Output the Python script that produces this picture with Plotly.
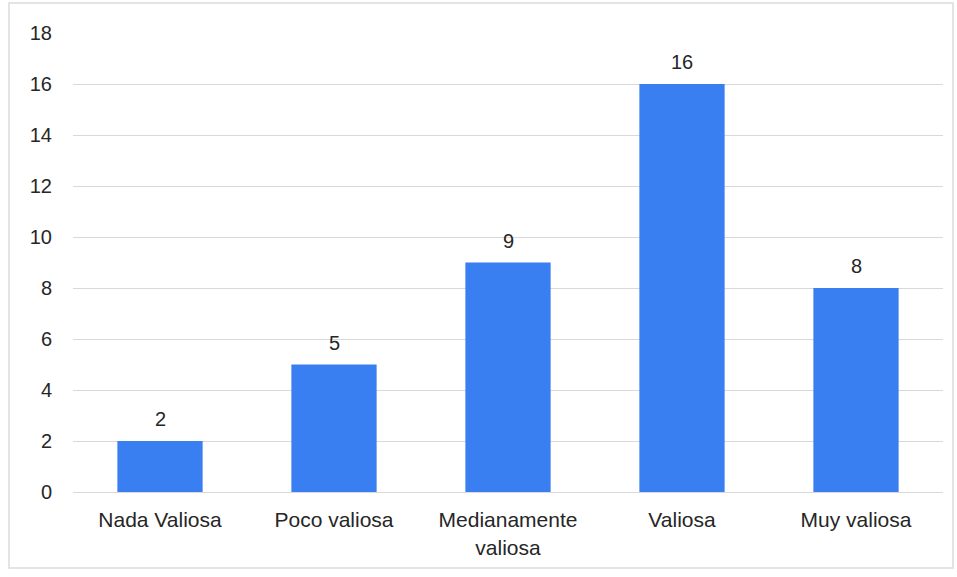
import plotly.graph_objects as go

categorias = ["Nada Valiosa", "Poco valiosa", "Medianamente<br>valiosa", "Valiosa", "Muy valiosa"]
valores = [2, 5, 9, 16, 8]
ticks_y = [0, 2, 4, 6, 8, 10, 12, 14, 16, 18]

W, H = 957, 577
ML, MR, MT, MB = 73, 14, 33, 85
pw, ph = W - ML - MR, H - MT - MB
TXT = "#262626"
FS = 21

fig = go.Figure(
    go.Bar(
        x=categorias,
        y=valores,
        marker=dict(color="#3a7ff2", line=dict(width=0)),
        width=0.49,
        hoverinfo="x+y",
    )
)

# value labels above each bar
for c, v in zip(categorias, valores):
    fig.add_annotation(
        x=c, y=v, text=str(v), showarrow=False, yanchor="middle", yshift=22,
        font=dict(size=FS - 1, color=TXT),
    )

# light frame around the whole chart
fig.add_shape(
    type="rect", xref="paper", yref="paper",
    x0=(9 - ML) / pw, x1=(953 - ML) / pw,
    y0=(H - MB - 568) / ph, y1=(H - MB - 3) / ph,
    line=dict(color="#dcdcdc", width=1.5), fillcolor="rgba(0,0,0,0)", layer="below",
)

fig.update_layout(
    width=W, height=H,
    margin=dict(l=ML, r=MR, t=MT, b=MB),
    paper_bgcolor="white", plot_bgcolor="white",
    font=dict(family="Liberation Sans, Arial, sans-serif", size=FS, color=TXT),
    showlegend=False,
    bargap=0.51,
)
fig.update_xaxes(
    showgrid=False, showline=True, linecolor="#d9d9d9", linewidth=1,
    ticks="", ticklabelstandoff=9, tickfont=dict(size=FS, color=TXT),
)
fig.update_yaxes(
    range=[0, 18], tickvals=ticks_y, showgrid=True, gridcolor="#d9d9d9", gridwidth=1,
    zeroline=False, showline=False, ticks="", ticklabelstandoff=20,
    tickfont=dict(size=FS - 1, color=TXT),
)

fig.write_html("out.html")
